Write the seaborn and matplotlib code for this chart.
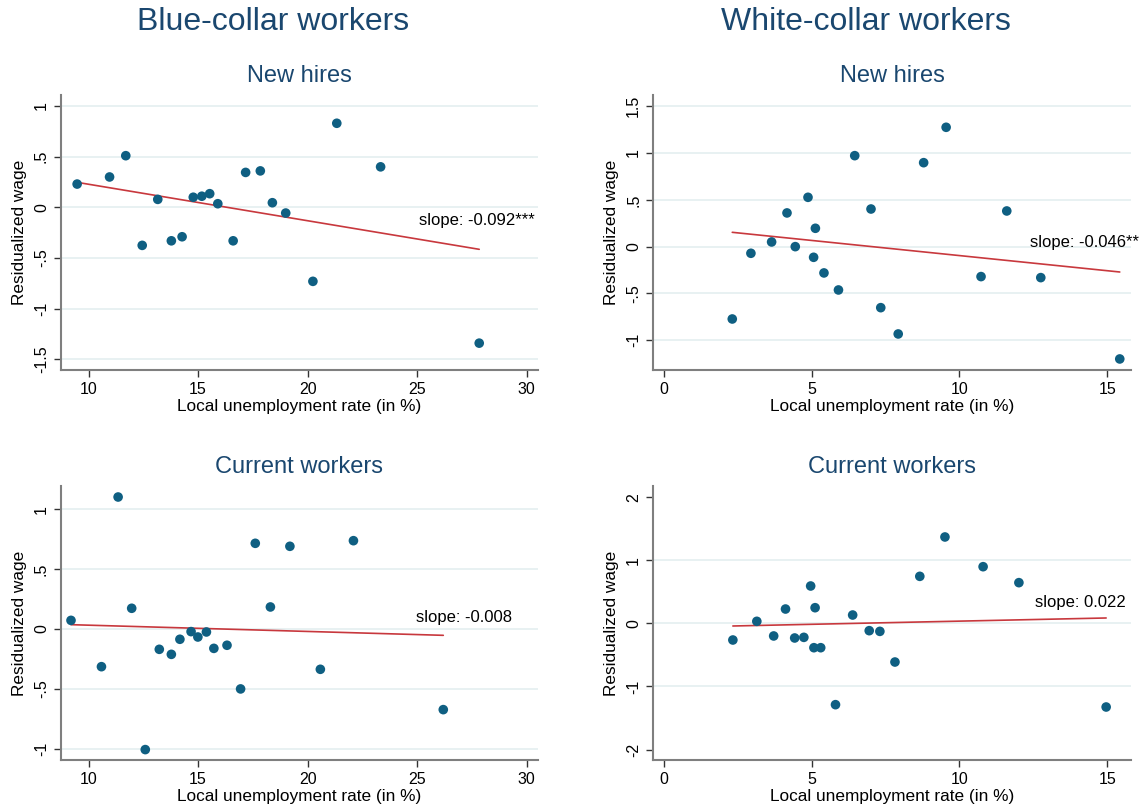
import numpy as np
import pandas as pd
import matplotlib
matplotlib.use("Agg")
import matplotlib.pyplot as plt
import seaborn as sns

# Local unemployment rate (%) and residualized wage, by worker group and status
bc_new_x = [9.48, 10.96, 11.70, 12.45, 13.16, 13.78, 14.27, 14.78, 15.17, 15.53,
            15.90, 16.60, 17.17, 17.84, 18.39, 19.00, 20.24, 21.33, 23.33, 27.83]
bc_new_y = [0.23, 0.30, 0.51, -0.375, 0.079, -0.33, -0.29, 0.10, 0.11, 0.135,
            0.036, -0.33, 0.345, 0.36, 0.046, -0.056, -0.73, 0.83, 0.40, -1.34]

wc_new_x = [2.32, 2.95, 3.65, 4.17, 4.45, 4.88, 5.07, 5.13, 5.42, 5.91,
            6.46, 7.01, 7.34, 7.93, 8.79, 9.55, 10.73, 11.60, 12.75, 15.42]
wc_new_y = [-0.773, -0.071, 0.05, 0.36, 0.0, 0.527, -0.114, 0.196, -0.281, -0.463,
            0.972, 0.402, -0.652, -0.933, 0.897, 1.275, -0.32, 0.381, -0.331, -1.20]

bc_cur_x = [9.20, 10.59, 11.35, 11.97, 12.59, 13.23, 13.78, 14.17, 14.68, 14.99,
            15.38, 15.72, 16.32, 16.94, 17.61, 18.30, 19.19, 20.58, 22.09, 26.19]
bc_cur_y = [0.072, -0.315, 1.103, 0.173, -1.008, -0.170, -0.212, -0.086, -0.022, -0.067,
            -0.025, -0.162, -0.136, -0.501, 0.716, 0.184, 0.691, -0.337, 0.738, -0.674]

wc_cur_x = [2.34, 3.15, 3.72, 4.12, 4.43, 4.74, 4.97, 5.08, 5.12, 5.31,
            5.81, 6.39, 6.95, 7.31, 7.82, 8.66, 9.51, 10.80, 12.01, 14.96]
wc_cur_y = [-0.264, 0.032, -0.20, 0.227, -0.232, -0.222, 0.592, -0.386, 0.248, -0.386,
            -1.289, 0.132, -0.116, -0.127, -0.613, 0.745, 1.369, 0.898, 0.645, -1.326]

# Fitted values of the (weighted) linear fit at the lowest and highest unemployment rate
bc_new_fit = [0.247, -0.414]
wc_new_fit = [0.153, -0.271]
bc_cur_fit = [0.036, -0.053]
wc_cur_fit = [-0.042, 0.085]

slope_labels = ["slope: -0.092***", "slope: -0.046**", "slope: -0.008", "slope: 0.022"]

group_titles = ["Blue-collar workers", "White-collar workers"]
panel_titles = ["New hires", "New hires", "Current workers", "Current workers"]

bc_xticks = [10, 15, 20, 25, 30]
wc_xticks = [0, 5, 10, 15]

bc_new_yticks = [1, 0.5, 0, -0.5, -1, -1.5]
bc_new_ylabels = ["1", ".5", "0", "-.5", "-1", "-1.5"]
wc_new_yticks = [1.5, 1, 0.5, 0, -0.5, -1]
wc_new_ylabels = ["1.5", "1", ".5", "0", "-.5", "-1"]
bc_cur_yticks = [1, 0.5, 0, -0.5, -1]
bc_cur_ylabels = ["1", ".5", "0", "-.5", "-1"]
wc_cur_yticks = [2, 1, 0, -1, -2]
wc_cur_ylabels = ["2", "1", "0", "-1", "-2"]

xlabel = "Local unemployment rate (in %)"
ylabel = "Residualized wage"

sns.set_theme(style="white")
plt.rcParams["font.family"] = ["Liberation Sans", "DejaVu Sans"]

W, H = 1148, 810
fig = plt.figure(figsize=(W / 100, H / 100), dpi=100)

NAVY = "#1a476f"
DOT = "#0f5f82"
RED = "#c8383d"
GRID = "#e4eff0"
SPINE = "#7f7f7f"

def px_axes(left, right, top, bottom):
    return fig.add_axes([left / W, 1 - bottom / H, (right - left) / W, (bottom - top) / H])

panels = [
    dict(ax=px_axes(60.7, 537.5, 95, 370), x=bc_new_x, y=bc_new_y, fit=bc_new_fit,
         xlim=(8.73, 30.49), ylim=(-1.605, 1.109), xt=bc_xticks, yt=bc_new_yticks,
         yl=bc_new_ylabels, grid=bc_new_yticks, txt=(25.06, -0.125)),
    dict(ax=px_axes(653, 1131, 95, 370), x=wc_new_x, y=wc_new_y, fit=wc_new_fit,
         xlim=(-0.36, 15.8), ylim=(-1.318, 1.62), xt=wc_xticks, yt=wc_new_yticks,
         yl=wc_new_ylabels, grid=wc_new_yticks, txt=(12.4, 0.043)),
    dict(ax=px_axes(60.7, 537.5, 486, 760), x=bc_cur_x, y=bc_cur_y, fit=bc_cur_fit,
         xlim=(8.73, 30.49), ylim=(-1.095, 1.195), xt=bc_xticks, yt=bc_cur_yticks,
         yl=bc_cur_ylabels, grid=bc_cur_yticks, txt=(24.95, 0.095)),
    dict(ax=px_axes(653, 1131, 486, 760), x=wc_cur_x, y=wc_cur_y, fit=wc_cur_fit,
         xlim=(-0.36, 15.8), ylim=(-2.166, 2.177), xt=wc_xticks, yt=wc_cur_yticks,
         yl=wc_cur_ylabels, grid=[1, 0, -1], txt=(12.54, 0.328)),
]

for i, p in enumerate(panels):
    ax = p["ax"]
    df = pd.DataFrame({"x": p["x"], "y": p["y"]})
    fit_df = pd.DataFrame({"x": [min(p["x"]), max(p["x"])], "y": p["fit"]})
    for g in p["grid"]:
        ax.axhline(g, color=GRID, lw=1.2, zorder=0)
    sns.lineplot(data=fit_df, x="x", y="y", ax=ax, color=RED, lw=1.2, zorder=2)
    sns.scatterplot(data=df, x="x", y="y", ax=ax, color=DOT, s=48, edgecolor="none",
                    linewidth=0, zorder=3)
    ax.set_xlim(*p["xlim"])
    ax.set_ylim(*p["ylim"])
    ax.set_xticks(p["xt"])
    ax.set_xticklabels([str(t) for t in p["xt"]])
    ax.set_yticks(p["yt"])
    ax.set_yticklabels(p["yl"], rotation=90, va="center")
    ax.tick_params(axis="both", which="major", direction="out", length=5, width=1,
                   color="#333333", labelsize=11.5, labelcolor="black", pad=3.5,
                   left=True, bottom=True)
    for side in ["top", "right"]:
        ax.spines[side].set_visible(False)
    for side in ["left", "bottom"]:
        ax.spines[side].set_color(SPINE)
        ax.spines[side].set_linewidth(1.5)
    ax.set_facecolor("white")
    ax.grid(False)
    ax.set_xlabel(xlabel, fontsize=12.4, color="black")
    ax.set_ylabel(ylabel, fontsize=12.4, color="black")
    ax.xaxis.set_label_coords(0.5, -37 / 275)
    ax.xaxis.label.set_va("center")
    ax.yaxis.set_label_coords(-41 / 476.8, 0.5)
    ax.yaxis.label.set_va("center")
    ax.text(p["txt"][0], p["txt"][1], slope_labels[i], ha="left", va="center",
            fontsize=12, color="black", clip_on=False, zorder=4)

# Panel headings
fig.text(273 / W, 1 - 22 / H, group_titles[0], ha="center", va="center",
         fontsize=23, color=NAVY)
fig.text(866 / W, 1 - 22 / H, group_titles[1], ha="center", va="center",
         fontsize=23, color=NAVY)
centers = [299.1, 892, 299.1, 892]
ys = [76.5, 76.5, 467, 467]
for t, cx, cy in zip(panel_titles, centers, ys):
    fig.text(cx / W, 1 - cy / H, t, ha="center", va="center", fontsize=17, color=NAVY)

fig.savefig("out.png", dpi=100, facecolor="white")
